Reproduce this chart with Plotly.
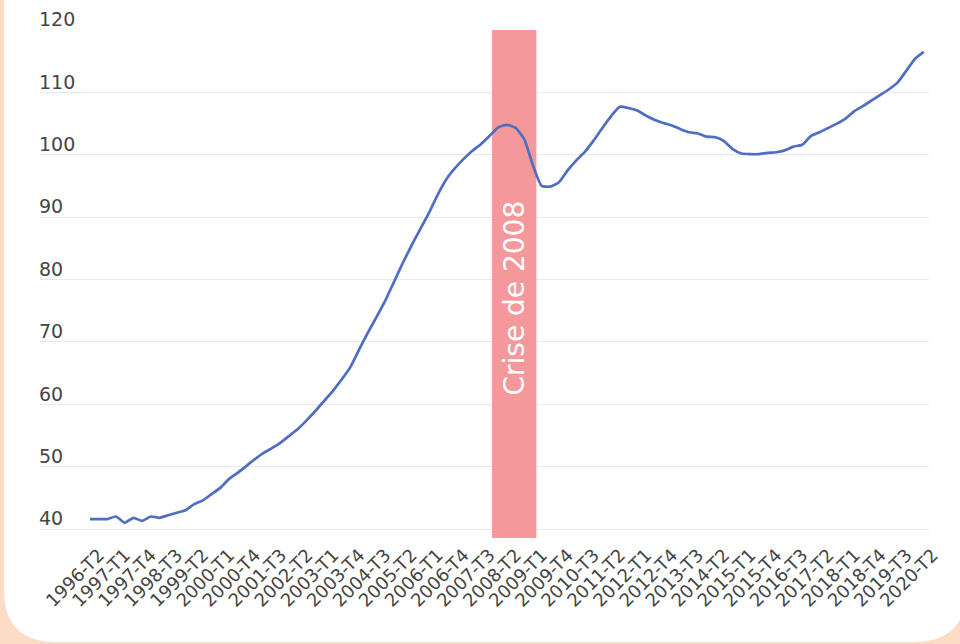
import plotly.graph_objects as go

# Quarterly categories 1996-T2 .. 2020-T2
quarters = []
for year in range(1996, 2021):
    for q in range(1, 5):
        if (year == 1996 and q < 2) or (year == 2020 and q > 2):
            continue
        quarters.append(f"{year}-T{q}")

# Price index values
index_values = [
    41.6, 41.6, 41.6, 42.0, 41.0, 41.8, 41.3, 42.0, 41.8, 42.2,
    42.6, 43.0, 44.0, 44.6, 45.6, 46.6, 48.0, 49.0, 50.1, 51.2,
    52.2, 53.0, 53.9, 55.0, 56.1, 57.5, 59.0, 60.6, 62.2, 64.0,
    66.0, 68.8, 71.5, 74.0, 76.6, 79.6, 82.6, 85.4, 88.0, 90.6,
    93.5, 96.0, 97.8, 99.3, 100.6, 101.7, 103.0, 104.4, 104.8, 104.3,
    102.5, 98.3, 95.0, 94.9, 95.6, 97.5, 99.1, 100.5, 102.3, 104.3,
    106.2, 107.7, 107.5, 107.1, 106.3, 105.6, 105.1, 104.7, 104.1, 103.6,
    103.4, 102.9, 102.8, 102.2, 100.9, 100.2, 100.1, 100.1, 100.3, 100.4,
    100.7, 101.3, 101.6, 103.0, 103.6, 104.3, 105.0, 105.8, 107.0, 107.8,
    108.7, 109.6, 110.5, 111.6, 113.5, 115.4, 116.5,
]

x_tick_labels = quarters[::3]
y_tick_values = [40, 50, 60, 70, 80, 90, 100, 110, 120]
crisis_label = "Crise de 2008"
crisis_start = 46.3   # category position
crisis_end = 51.4

W, H = 960, 644
ML, MR, MT, MB = 40, 31, 30, 106
pw, ph = W - ML - MR, H - MT - MB

def px_to_paper(x, y):
    return (x - ML) / pw, (H - MB - y) / ph

# rounded white panel path (pixel coords -> paper coords)
left, right, top, bottom, r = 4, 966, -60, 642, 52
def P(x, y):
    px, py = px_to_paper(x, y)
    return f"{px:.5f},{py:.5f}"
panel_path = (
    f"M {P(left + r, top)} L {P(right - r, top)} Q {P(right, top)} {P(right, top + r)} "
    f"L {P(right, bottom - r)} Q {P(right, bottom)} {P(right - r, bottom)} "
    f"L {P(left + r, bottom)} Q {P(left, bottom)} {P(left, bottom - r)} "
    f"L {P(left, top + r)} Q {P(left, top)} {P(left + r, top)} Z"
)

font_family = "DejaVu Sans"
text_color = "#454545"

fig = go.Figure()
fig.add_trace(go.Scatter(
    x=quarters, y=index_values, mode="lines",
    line=dict(color="#4E6EC2", width=2.7, shape="spline", smoothing=0.5),
    hoverinfo="x+y", showlegend=False,
))

fig.add_shape(type="path", path=panel_path, xref="paper", yref="paper",
              fillcolor="white", line=dict(width=0), layer="below")
fig.add_shape(type="rect", xref="x", yref="y",
              x0=crisis_start, x1=crisis_end, y0=38.56, y1=120,
              fillcolor="#F4989B", line=dict(width=0), layer="between")
fig.add_annotation(x=(crisis_start + crisis_end) / 2, y=77, xref="x", yref="y",
                   text=crisis_label, textangle=-90, showarrow=False,
                   font=dict(family=font_family, size=28, color="white"))

fig.update_layout(
    width=W, height=H,
    margin=dict(l=ML, r=MR, t=MT, b=MB, pad=0, autoexpand=False),
    paper_bgcolor="#FCDCC4",
    plot_bgcolor="rgba(0,0,0,0)",
    font=dict(family=font_family, color=text_color),
    xaxis=dict(
        type="category", range=[-5.75, 96.6], automargin=False,
        tickmode="array", tickvals=x_tick_labels, ticktext=x_tick_labels,
        tickangle=-45, tickfont=dict(size=18, color=text_color),
        ticklabelshift=9, ticklabelstandoff=2,
        showgrid=False, showline=False, zeroline=False, ticks="",
    ),
    yaxis=dict(
        range=[38.56, 120], tickmode="array", tickvals=y_tick_values,
        automargin=False,
        ticklabelposition="inside top", ticklabeloverflow="allow",
        ticklabelshift=3, ticklabelstandoff=-4,
        tickfont=dict(size=19, color=text_color),
        showgrid=True, gridcolor="#E9E9E9", gridwidth=1.2,
        zeroline=False, showline=False, ticks="",
    ),
)

fig.write_html("out.html")
